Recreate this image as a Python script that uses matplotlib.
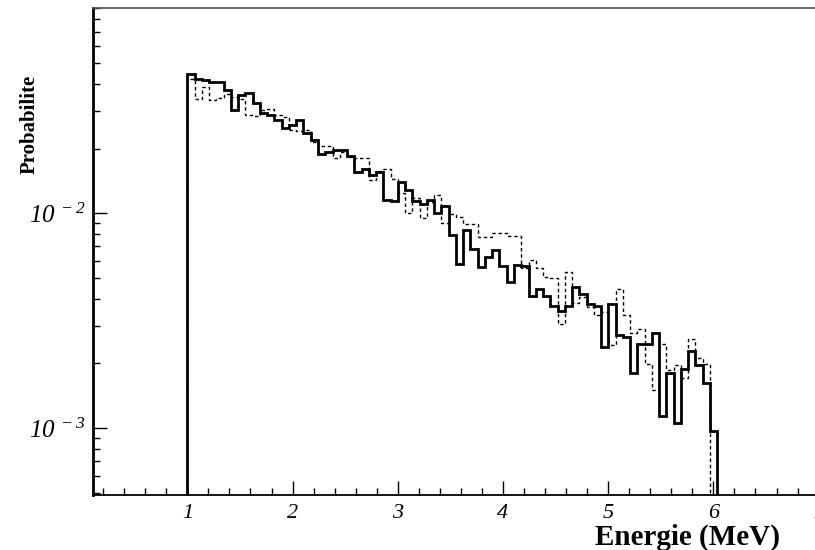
import matplotlib
matplotlib.use('Agg')
import matplotlib.pyplot as plt
import numpy as np
from matplotlib.ticker import MultipleLocator, LogLocator, NullFormatter

plt.rcParams['font.family'] = 'Liberation Serif'
plt.rcParams['mathtext.fontset'] = 'custom'
# digits in mathtext use the "rm" font, so make it italic too
plt.rcParams['mathtext.rm'] = 'Liberation Serif:italic'
plt.rcParams['mathtext.it'] = 'Liberation Serif:italic'

# histogram binning (energy in MeV)
bin_start = 1.0
bin_width = 0.069

# solid histogram (thick line)
solid = [0.0443, 0.0423, 0.0416, 0.0408, 0.0408, 0.0376, 0.0301, 0.0354, 0.0363, 0.0326,
         0.0293, 0.0286, 0.0273, 0.0250, 0.0257, 0.0271, 0.0236, 0.0220, 0.0188, 0.0193,
         0.0196, 0.0196, 0.0184, 0.0155, 0.0160, 0.0150, 0.0155, 0.0115, 0.0114, 0.0140,
         0.0128, 0.0114, 0.0110, 0.0115, 0.0100, 0.0108, 0.00790, 0.00583, 0.00834, 0.00678,
         0.00563, 0.00626, 0.00673, 0.00570, 0.00476, 0.00576, 0.00569, 0.00411, 0.00442, 0.00411,
         0.00369, 0.00351, 0.00369, 0.00454, 0.00420, 0.00377, 0.00369, 0.00237, 0.00379, 0.00271,
         0.00264, 0.00180, 0.00246, 0.00247, 0.00278, 0.00114, 0.00181, 0.00106, 0.00189, 0.00229,
         0.00197, 0.00162, 0.00097]

# dotted histogram (thin dashed line)
dotted = [0.0424, 0.0342, 0.0387, 0.0335, 0.0345, 0.0360, 0.0347, 0.0342, 0.0286, 0.0284,
          0.0301, 0.0306, 0.0286, 0.0281, 0.0243, 0.0241, 0.0245, 0.0215, 0.0205, 0.0205,
          0.0180, 0.0193, 0.0183, 0.0180, 0.0180, 0.0143, 0.0158, 0.0160, 0.0145, 0.0124,
          0.0100, 0.0118, 0.00955, 0.0113, 0.0121, 0.00896, 0.00989, 0.00961, 0.00889, 0.00889,
          0.00776, 0.00771, 0.00810, 0.00810, 0.00782, 0.00782, 0.00555, 0.00608, 0.00558, 0.00505,
          0.00502, 0.00305, 0.00533, 0.00380, 0.00408, 0.00365, 0.00335, 0.00347, 0.00243, 0.00442,
          0.00335, 0.00277, 0.00288, 0.00198, 0.00150, 0.00246, 0.00186, 0.00196, 0.00171, 0.00259,
          0.00211, 0.00198]

xtick_vals = [1, 2, 3, 4, 5, 6, 7]
ytick_vals = [1e-3, 1e-2]
ytick_text = [r'$10^{\ -3}$', r'$10^{\ -2}$']

edges_solid = bin_start + bin_width * np.arange(len(solid) + 1)
edges_dotted = bin_start + bin_width * np.arange(len(dotted) + 1)

fig = plt.figure(figsize=(8.15, 5.5), dpi=100)
ax = fig.add_axes([0.1137, 0.1009, 0.8907, 0.884])
ax.set_yscale('log')

ax.stairs(dotted, edges_dotted, baseline=1e-5, color='black', linewidth=1,
          linestyle=(0, (2.5, 2)))
ax.stairs(solid, edges_solid, baseline=1e-5, color='black', linewidth=2)

ax.set_xlim(0.1, 7)
ax.set_ylim(4.9e-4, 0.09)

ax.set_xticks(xtick_vals)
ax.set_xticklabels([str(v) for v in xtick_vals], fontstyle='italic', fontsize=16)
ax.xaxis.set_minor_locator(MultipleLocator(0.2))

ax.set_yticks(ytick_vals)
ax.set_yticklabels(ytick_text, fontsize=18)
ax.yaxis.set_minor_locator(LogLocator(base=10, subs=np.arange(2, 10)))
ax.yaxis.set_minor_formatter(NullFormatter())

ax.tick_params(which='major', direction='in', length=10, width=1, top=False, right=False)
ax.tick_params(which='minor', direction='in', length=5, width=1, top=False, right=False)
ax.tick_params(axis='x', which='major', pad=7)
ax.tick_params(axis='y', which='major', pad=5)

ax.spines['left'].set_linewidth(2)
ax.spines['bottom'].set_linewidth(1.3)
ax.spines['top'].set_linewidth(1.2)
ax.spines['top'].set_color('#555555')
ax.spines['right'].set_visible(False)

fig.text(30 / 815, 1 - 124 / 550, 'Probabilite', rotation=90, ha='center', va='center',
         fontweight='bold', fontsize=15)
fig.text(780 / 815, 1 - 545 / 550, 'Energie (MeV)', ha='right', va='baseline',
         fontweight='bold', fontsize=21)

fig.savefig('out.png', dpi=100)
